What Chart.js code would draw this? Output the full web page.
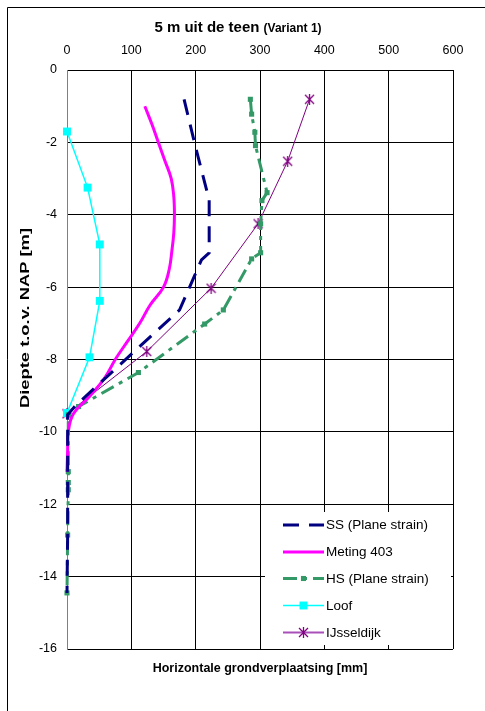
<!DOCTYPE html>
<html>
<head>
<meta charset="utf-8">
<title>5 m uit de teen (Variant 1)</title>
<script src="https://cdn.jsdelivr.net/npm/chart.js@4.4.1/dist/chart.umd.min.js"></script>
<style>
  html, body { margin: 0; padding: 0; background: #ffffff; }
  canvas { display: block; }
</style>
</head>
<body>
<canvas id="chart" width="485" height="711"></canvas>
<script>
const FONT = '"Liberation Sans", Arial, Helvetica, sans-serif';

// Axis ticks
const xTicks = [0, 100, 200, 300, 400, 500, 600];
const yTicks = [0, -2, -4, -6, -8, -10, -12, -14, -16];

// SS (Plane strain): depth [m] and displacement [mm]
const ssDepth = [-0.81, -2.07, -3.59, -5.05, -5.25, -6.63, -7.02, -8.36, -9.30, -9.53, -11.10, -12.85, -14.45];
const ssDisp  = [182, 199, 221, 221, 209, 175, 151, 69, 12, 1, 1, 1, 0];

// Meting 403
const metDepth = [-1.0, -1.5, -2.0, -2.5, -3.0, -3.5, -4.0, -4.5, -5.0, -5.5, -6.0, -6.5, -7.0, -7.5, -8.0, -8.5, -9.0, -9.5, -10.0, -10.5, -11.1];
const metDisp  = [121, 132, 142, 152, 162, 166, 167, 166, 163, 159, 150, 129, 113, 94, 75, 59, 36, 10, 2, 1, 0];

// HS (Plane strain)
const hsDepth = [-0.81, -1.22, -1.72, -2.09, -3.39, -3.61, -4.25, -5.05, -5.22, -6.63, -7.02, -8.36, -9.30, -9.53, -11.10, -11.40, -11.60, -12.85, -14.45];
const hsDisp  = [285, 287, 292, 293, 311, 303, 301, 301, 287, 243, 214, 111, 18, 2, 2, 2, 2, 1, 0];

// Loof
const loofDepth = [-1.70, -3.25, -4.82, -6.38, -7.94, -9.48];
const loofDisp  = [0, 32, 51, 51, 35, 0];

// IJsseldijk
const ijDepth = [-0.81, -2.52, -4.25, -6.03, -7.78, -9.50];
const ijDisp  = [377, 343, 297, 224, 124, 0];

const toPoints = (disp, depth) => disp.map((x, i) => ({ x: x, y: depth[i] }));

// Asterisk marker: diagonal cross with a vertical bar
function asteriskMarker(color, size) {
  const c = document.createElement('canvas');
  c.width = size;
  c.height = size;
  const g = c.getContext('2d');
  g.strokeStyle = color;
  g.lineWidth = 1.3;
  const m = 1, s = size - 1, h = size / 2;
  g.beginPath();
  g.moveTo(m, m); g.lineTo(s, s);
  g.moveTo(s, m); g.lineTo(m, s);
  g.moveTo(h, m - 1); g.lineTo(h, s + 1);
  g.stroke();
  return c;
}

const datasets = [
  {
    label: 'SS (Plane strain)',
    data: toPoints(ssDisp, ssDepth),
    borderColor: '#000080', backgroundColor: '#000080',
    borderWidth: 3, borderDash: [16, 10],
    pointRadius: 0, tension: 0
  },
  {
    label: 'Meting 403',
    data: toPoints(metDisp, metDepth),
    borderColor: '#ff00ff', backgroundColor: '#ff00ff',
    borderWidth: 3, pointRadius: 0, tension: 0.4
  },
  {
    label: 'HS (Plane strain)',
    data: toPoints(hsDisp, hsDepth),
    borderColor: '#339966', backgroundColor: '#339966',
    borderWidth: 3, borderDash: [14, 6, 4, 6],
    pointStyle: 'rect', pointRadius: 3.6, pointBorderWidth: 0,
    tension: 0
  },
  {
    label: 'Loof',
    data: toPoints(loofDisp, loofDepth),
    borderColor: '#00ffff', backgroundColor: '#00ffff',
    borderWidth: 1.5, pointStyle: 'rect', pointRadius: 5.6,
    pointBorderWidth: 0, tension: 0
  },
  {
    label: 'IJsseldijk',
    data: toPoints(ijDisp, ijDepth),
    borderColor: '#800080', backgroundColor: '#800080',
    borderWidth: 1, pointStyle: asteriskMarker('#800080', 11), pointRadius: 5,
    pointBorderWidth: 1, tension: 0
  }
];
datasets.forEach(d => { d.showLine = true; d.clip = false; });

// Outer frame, title and axis titles drawn around the plot
const decorations = {
  id: 'decorations',
  beforeDraw(chart) {
    const ctx = chart.ctx;
    ctx.save();
    ctx.fillStyle = '#ffffff';
    ctx.fillRect(0, 0, chart.width, chart.height);
    ctx.strokeStyle = '#000000';
    ctx.lineWidth = 1;
    ctx.beginPath();
    ctx.moveTo(7.5, chart.height);
    ctx.lineTo(7.5, 7.5);
    ctx.lineTo(chart.width, 7.5);
    ctx.stroke();
    ctx.restore();
  },
  afterDraw(chart) {
    const ctx = chart.ctx;
    const area = chart.chartArea;
    ctx.save();
    ctx.fillStyle = '#000000';
    ctx.textBaseline = 'alphabetic';
    ctx.textAlign = 'left';

    // Title: mixed sizes
    const main = '5 m uit de teen ';
    const sub = '(Variant 1)';
    ctx.font = 'bold 15px ' + FONT;
    const wMain = ctx.measureText(main).width;
    ctx.font = 'bold 12px ' + FONT;
    const wSub = ctx.measureText(sub).width;
    const x0 = 238 - (wMain + wSub) / 2;
    ctx.font = 'bold 15px ' + FONT;
    ctx.fillText(main, x0, 32);
    ctx.font = 'bold 12px ' + FONT;
    ctx.fillText(sub, x0 + wMain, 32);

    // X axis title
    ctx.font = 'bold 12.5px ' + FONT;
    ctx.textAlign = 'center';
    ctx.fillText('Horizontale grondverplaatsing [mm]', (area.left + area.right) / 2, 672);

    // Y axis title, stretched along its length
    const yTitle = 'Diepte t.o.v. NAP [m]';
    ctx.font = 'bold 12.5px ' + FONT;
    const wy = ctx.measureText(yTitle).width;
    ctx.translate(29, 318);
    ctx.rotate(-Math.PI / 2);
    ctx.scale(180 / wy, 1);
    ctx.fillText(yTitle, 0, 0);
    ctx.restore();
  }
};

// Legend box inside the plot, bottom right
const plotLegend = {
  id: 'plotLegend',
  afterDatasetsDraw(chart) {
    const ctx = chart.ctx;
    ctx.save();
    ctx.fillStyle = '#ffffff';
    ctx.fillRect(265, 512, 186, 133);
    const rowY = [525, 552, 578.5, 605.5, 632.5];
    chart.data.datasets.forEach((ds, i) => {
      const y = rowY[i];
      ctx.save();
      ctx.strokeStyle = i === 4 ? '#a850b8' : ds.borderColor;
      ctx.lineWidth = i === 4 ? 2 : (i === 3 ? 1.5 : 3);
      ctx.setLineDash(ds.borderDash || []);
      ctx.beginPath();
      ctx.moveTo(283, y);
      ctx.lineTo(324, y);
      ctx.stroke();
      ctx.restore();
      if (ds.pointRadius > 0) {
        ctx.save();
        ctx.fillStyle = ds.backgroundColor;
        ctx.strokeStyle = ds.borderColor;
        ctx.lineWidth = ds.pointBorderWidth || 1;
        Chart.helpers.drawPoint(ctx, {
          pointStyle: ds.pointStyle,
          radius: ds.pointRadius,
          borderWidth: ds.pointBorderWidth,
          rotation: 0
        }, 303.5, y);
        ctx.restore();
      }
      ctx.fillStyle = '#000000';
      ctx.font = '13.5px ' + FONT;
      ctx.textAlign = 'left';
      ctx.textBaseline = 'middle';
      ctx.fillText(ds.label, 326, y + 0.5);
    });
    ctx.restore();
  }
};

new Chart(document.getElementById('chart'), {
  type: 'scatter',
  data: { datasets: datasets },
  options: {
    responsive: false,
    animation: false,
    devicePixelRatio: 1,
    layout: { padding: { left: 0, top: 0, right: 32, bottom: 62 } },
    plugins: {
      legend: { display: false },
      title: { display: false },
      tooltip: { enabled: false }
    },
    elements: { line: { fill: false } },
    scales: {
      x: {
        type: 'linear',
        position: 'top',
        min: xTicks[0],
        max: xTicks[xTicks.length - 1],
        afterBuildTicks: s => { s.ticks = xTicks.map(v => ({ value: v })); },
        afterFit: s => { s.height = 70; },
        grid: { color: '#000000', lineWidth: 1, drawTicks: false },
        border: { display: true, color: '#000000', width: 1 },
        ticks: {
          color: '#000000', padding: 12, maxRotation: 0,
          font: { family: FONT, size: 12.5 }
        }
      },
      y: {
        type: 'linear',
        position: 'left',
        min: yTicks[yTicks.length - 1],
        max: yTicks[0],
        afterBuildTicks: s => { s.ticks = yTicks.map(v => ({ value: v })); },
        afterFit: s => { s.width = 67; },
        grid: { color: '#000000', lineWidth: 1, drawTicks: false },
        border: { display: true, color: '#808080', width: 1 },
        ticks: {
          color: '#000000', padding: 10,
          font: { family: FONT, size: 12.5 }
        }
      }
    }
  },
  plugins: [decorations, plotLegend]
});
</script>
</body>
</html>
